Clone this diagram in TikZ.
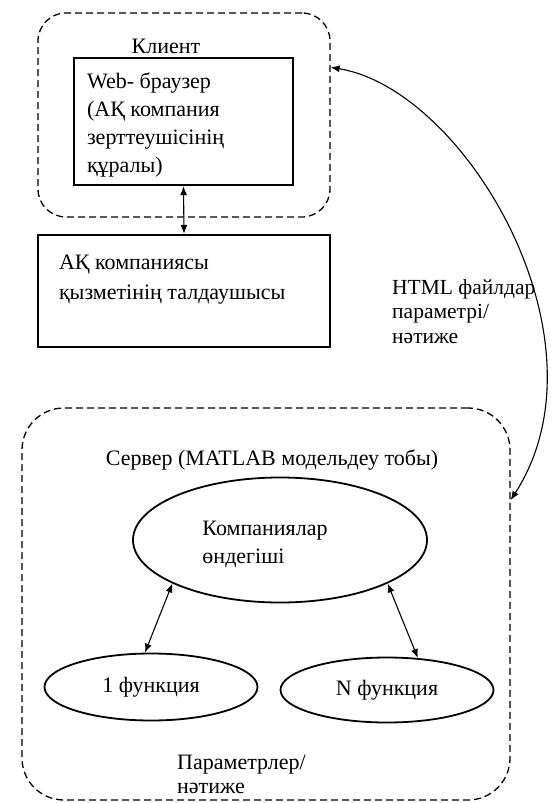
\documentclass[tikz,border=0pt]{standalone}
\usepackage{fontspec}
\setmainfont{Liberation Serif}
\usepackage{tikz}
\usetikzlibrary{positioning,shapes,arrows.meta}

\tikzset{
  group/.style={draw,dashed,dash pattern=on 7pt off 4pt,line width=1.3pt,rounded corners=28pt},
  box/.style={draw,line width=2.3pt,inner sep=0pt},
  oval/.style={draw,ellipse,line width=1.8pt,inner sep=0pt},
  link/.style={{Latex[length=9pt,width=7pt]}-{Latex[length=9pt,width=7pt]},line width=1.1pt},
  txt/.style={font=\fontsize{22}{28}\selectfont,align=left,inner sep=0pt}
}

\begin{document}
\begin{tikzpicture}[x=1pt,y=-1pt]
\useasboundingbox (0,0) rectangle (552,803);

%%% Client
\node[group,minimum width=292pt,minimum height=204pt] (client) at (184,115) {};
\node[txt] (clientlbl) at (166,46) {Клиент};
\node[box,minimum width=219pt,minimum height=127pt] (browser) at (183.5,121.5) {};
\node[txt,below right=16pt and 14pt of browser.north west] (browserlbl)
  {Web- браузер\\(АҚ компания\\зерттеушісінің\\құралы)};

%%% Analyst
\node[box,minimum width=292pt,minimum height=112pt] (analyst) at (184,291) {};
\node[txt,below right=21pt and 22pt of analyst.north west,font=\fontsize{22}{30}\selectfont] (analystlbl)
  {АҚ компаниясы\\қызметінің талдаушысы};
\draw[link] (browser.south) -- (analyst.north);

%%% Server
\node[group,rounded corners=42pt,minimum width=488pt,minimum height=392pt] (server) at (266,604) {};
\node[txt] (serverlbl) at (272,460) {Сервер (MATLAB модельдеу тобы)};
\node[oval,minimum width=294pt,minimum height=125pt] (hub) at (280,540) {};
\node[txt] (hublbl) at (265,544) {Компаниялар\\өндегіші};
\node[oval,minimum width=213pt,minimum height=67pt,txt] (f1) at (151,687) {1 функция};
\node[oval,minimum width=213pt,minimum height=65pt,txt] (fN) at (387,690) {N функция};
\node[txt,anchor=north west,font=\fontsize{22}{24}\selectfont] (paramlbl) at (177,755) {Параметрлер/\\нәтиже};

%% Frecce
\draw[link] (hub.202) -- (f1.100);
\draw[link] (hub.338) -- (fN.46);

%% HTML
\draw[link] (client.18) .. controls +(135,22) and +(103,-160) .. (server.23);
\node[txt,anchor=north west,font=\fontsize{21.5}{24.5}\selectfont] (htmllbl) at (392,279)
  {HTML файлдар\\параметрі/\\нәтиже};
\end{tikzpicture}
\end{document}
